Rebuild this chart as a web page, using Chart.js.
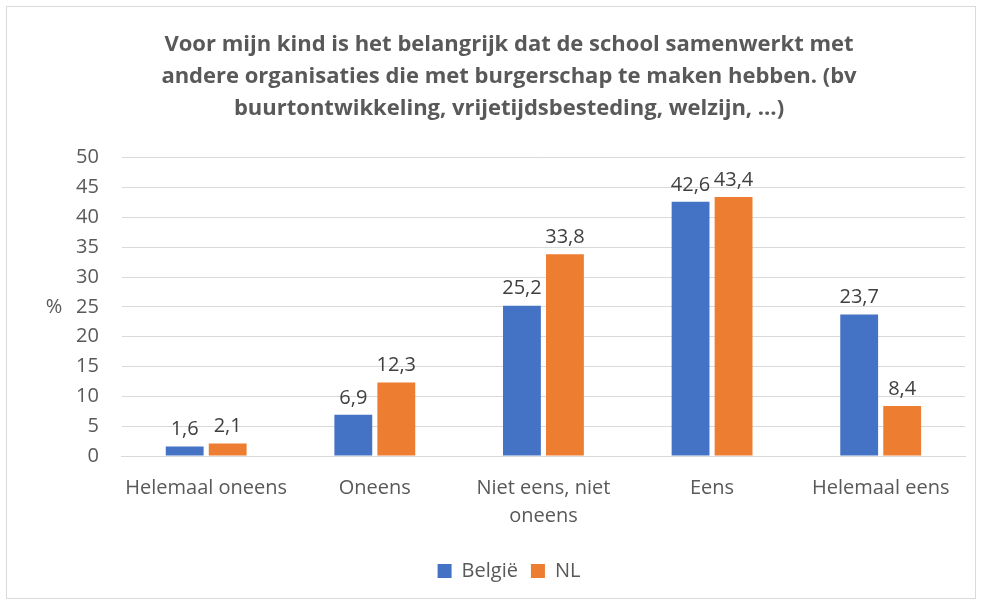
<!DOCTYPE html>
<html>
<head>
<meta charset="utf-8">
<script src="https://cdn.jsdelivr.net/npm/chart.js@4/dist/chart.umd.min.js"></script>
<style>
  body { margin: 0; background: #fff; }
  .box { position: absolute; left: 6px; top: 6px; width: 970px; height: 593px; border: 1px solid #d9d9d9; box-sizing: border-box; }
</style>
</head>
<body>
<div class="box"><canvas id="chart"></canvas></div>
<script>
// data
const categories = ['Helemaal oneens', 'Oneens', ['Niet eens, niet', 'oneens'], 'Eens', 'Helemaal eens'];
const belgie = [1.6, 6.9, 25.2, 42.6, 23.7];
const nl = [2.1, 12.3, 33.8, 43.4, 8.4];
const titleLines = [
  'Voor mijn kind is het belangrijk dat de school samenwerkt met',
  'andere organisaties die met burgerschap te maken hebben. (bv',
  'buurtontwikkeling, vrijetijdsbesteding, welzijn, …)'
];

const fontFam = '"Open Sans", sans-serif';
const grey = '#595959';

// value labels above the bars + horizontal "%" axis title
const labelsPlugin = {
  id: 'labels',
  afterDatasetsDraw(chart) {
    const ctx = chart.ctx;
    ctx.save();
    ctx.font = '20px ' + fontFam;
    ctx.fillStyle = '#404040';
    ctx.textAlign = 'center';
    ctx.textBaseline = 'bottom';
    chart.data.datasets.forEach((ds, i) => {
      chart.getDatasetMeta(i).data.forEach((bar, j) => {
        ctx.fillText(String(ds.data[j]).replace('.', ','), bar.x, bar.y - 7);
      });
    });
    const y = chart.scales.y;
    ctx.fillStyle = grey;
    ctx.textBaseline = 'middle';
    ctx.fillText('%', y.left + 1, (y.top + y.bottom) / 2);
    ctx.restore();
  }
};

new Chart(document.getElementById('chart'), {
  type: 'bar',
  data: {
    labels: categories,
    datasets: [
      { label: 'België', data: belgie, backgroundColor: '#4472c4' },
      { label: 'NL', data: nl, backgroundColor: '#ed7d31' }
    ]
  },
  options: {
    responsive: true,
    maintainAspectRatio: false,
    animation: false,
    barPercentage: 0.88,
    categoryPercentage: 0.51,
    layout: { padding: { left: 46, right: 10, top: 8, bottom: 7 } },
    plugins: {
      title: {
        display: true,
        text: titleLines,
        color: grey,
        font: { family: fontFam, size: 22, weight: 'bold', lineHeight: 1.45 },
        padding: { top: 14, bottom: 33 }
      },
      legend: {
        position: 'bottom',
        labels: { color: grey, font: { family: fontFam, size: 20 }, boxWidth: 14, boxHeight: 14, padding: 13 }
      },
      tooltip: { enabled: false }
    },
    scales: {
      y: {
        min: 0, max: 50,
        ticks: { stepSize: 5, color: grey, font: { family: fontFam, size: 20 }, padding: 23 },
        grid: { color: '#d9d9d9', drawTicks: false },
        border: { display: false }
      },
      x: {
        ticks: { color: grey, font: { family: fontFam, size: 20, lineHeight: 1.4 }, padding: 18, maxRotation: 0, autoSkip: false },
        grid: { display: false, drawTicks: false },
        border: { color: '#d9d9d9' }
      }
    }
  },
  plugins: [labelsPlugin]
});
</script>
</body>
</html>
